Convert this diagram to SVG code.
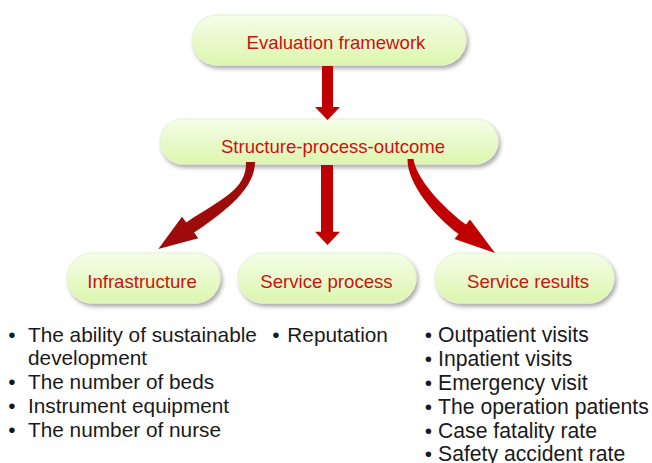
<svg xmlns="http://www.w3.org/2000/svg" width="652" height="463" viewBox="0 0 652 463">
<defs>
<linearGradient id="g" x1="0" y1="0" x2="0" y2="1">
<stop offset="0" stop-color="#f5fde9"/>
<stop offset="1" stop-color="#dcf6ae"/>
</linearGradient>
<filter id="sh" x="-10%" y="-20%" width="125%" height="150%">
<feDropShadow dx="2" dy="3" stdDeviation="2" flood-color="#000" flood-opacity="0.35"/>
</filter>
</defs>
<style>
.node rect{fill:url(#g);stroke:#e3f3cf;stroke-width:1;filter:url(#sh)}
.node text{font-family:"Liberation Sans",Arial,sans-serif;font-size:18.6px;fill:#cc1111;text-anchor:middle}
.arrow{fill:#c00000}
.arrow.dark{fill:#9e0b0b}
.list text{font-family:"Liberation Sans",Arial,sans-serif;font-size:20.8px;fill:#1a1a1a}
.list .b{text-anchor:middle}
.list .r{font-size:21.2px}
</style>
<g id="node-evaluation" class="node">
<rect x="192" y="15" width="274" height="50" rx="25"/>
<text x="336" y="49.3">Evaluation framework</text>
</g>
<g id="node-spo" class="node">
<rect x="160" y="119" width="338" height="45" rx="22.5"/>
<text x="333" y="153.3">Structure-process-outcome</text>
</g>
<g id="node-infrastructure" class="node">
<rect x="67" y="253" width="153" height="50" rx="25"/>
<text x="142" y="288">Infrastructure</text>
</g>
<g id="node-service-process" class="node">
<rect x="238" y="253" width="178" height="50" rx="25"/>
<text x="326.5" y="288">Service process</text>
</g>
<g id="node-service-results" class="node">
<rect x="435" y="253" width="179" height="50" rx="25"/>
<text x="528" y="288">Service results</text>
</g>
<g id="connectors">
<path class="arrow" d="M322,66 L333,66 L333,107 L340,107 L327.5,120 L315,107 L322,107 Z"/>
<path class="arrow" d="M321,165 L333,165 L333,231.7 L340,231.7 L327.5,245 L315,231.7 L321,231.7 Z"/>
<path class="arrow dark" d="M246,162 C247,190 219.5,200 186.3,222.4 L182,216.7 L158.3,249 L198.3,238.3 L194.1,232.6 C227.3,210.2 255,188 255,162 Z"/>
<path class="arrow" d="M407.5,159 C407,183 434.2,216.2 458.5,233.9 L454.5,239 L495,253 L470,219.5 L466,224.6 C441.7,206.9 416,178 413.5,159 Z"/>
</g>
<g id="list-infrastructure" class="list">
<text class="b" x="12" y="341.5">•</text>
<text x="28" y="341.5">The ability of sustainable</text>
<text x="28" y="365.3">development</text>
<text class="b" x="12" y="389.1">•</text>
<text x="28" y="389.1">The number of beds</text>
<text class="b" x="12" y="412.9">•</text>
<text x="28" y="412.9">Instrument equipment</text>
<text class="b" x="12" y="436.7">•</text>
<text x="28" y="436.7">The number of nurse</text>
</g>
<g id="list-service-process" class="list">
<text class="b" x="276" y="341.5">•</text>
<text x="287.3" y="341.5">Reputation</text>
</g>
<g id="list-service-results" class="list">
<text class="b" x="428.3" y="342">•</text>
<text class="r" x="438" y="342">Outpatient visits</text>
<text class="b" x="428.3" y="366">•</text>
<text class="r" x="438" y="366">Inpatient visits</text>
<text class="b" x="428.3" y="390">•</text>
<text class="r" x="438" y="390">Emergency visit</text>
<text class="b" x="428.3" y="414">•</text>
<text class="r" x="438" y="414">The operation patients</text>
<text class="b" x="428.3" y="438">•</text>
<text class="r" x="438" y="438">Case fatality rate</text>
<text class="b" x="428.3" y="461">•</text>
<text class="r" x="438" y="461">Safety accident rate</text>
</g>
</svg>
